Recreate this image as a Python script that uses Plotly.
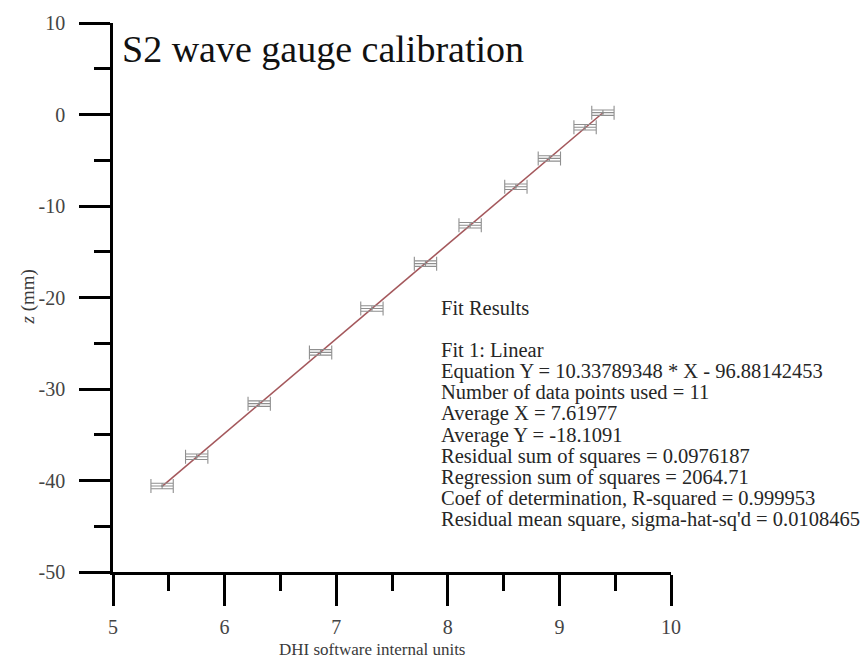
import plotly.graph_objects as go

# Calibration points: DHI internal units vs measured elevation z (mm)
dhi_units = [5.44, 5.75, 6.31, 6.86, 7.32, 7.80, 8.20, 8.61, 8.91, 9.23, 9.39]
z_mm = [-40.6, -37.4, -31.6, -26.0, -21.2, -16.3, -12.1, -7.9, -4.8, -1.4, 0.2]
x_err = 0.1
z_err = 0.3

# Linear fit coefficients
slope = 10.33789348
intercept = -96.88142453

fit_lines = [
    "Fit Results",
    "",
    "Fit 1: Linear",
    "Equation Y = 10.33789348 * X - 96.88142453",
    "Number of data points used = 11",
    "Average X = 7.61977",
    "Average Y = -18.1091",
    "Residual sum of squares = 0.0976187",
    "Regression sum of squares = 2064.71",
    "Coef of determination, R-squared = 0.999953",
    "Residual mean square, sigma-hat-sq'd = 0.0108465",
]

x_ticks = [5, 6, 7, 8, 9, 10]
y_ticks = [10, 0, -10, -20, -30, -40, -50]

W, H = 860, 663
ML, MR, MT, MB = 112.5, 188.5, 15.6, 91.3
SERIF = "Liberation Serif"


def px_x(px):
    return (px - ML) / (W - ML - MR)


def px_y(py):
    return 1 - (py - MT) / (H - MT - MB)


fig = go.Figure()

x_fit = [min(dhi_units), max(dhi_units)]
y_fit = [slope * v + intercept for v in x_fit]
fig.add_trace(go.Scatter(
    x=x_fit, y=y_fit, mode="lines",
    line=dict(color="#a4585c", width=1.6),
    hoverinfo="skip", showlegend=False,
))

fig.add_trace(go.Scatter(
    x=dhi_units, y=z_mm, mode="markers",
    marker=dict(size=2, color="#8a8a8a"),
    error_x=dict(type="constant", value=x_err, color="#8f8f8f", thickness=1.1, width=7),
    error_y=dict(type="constant", value=z_err, color="#8f8f8f", thickness=1.1, width=11),
    showlegend=False,
))

axis_common = dict(
    showline=True, linecolor="black", linewidth=2.5,
    ticks="outside", ticklen=31, tickwidth=2.5, tickcolor="black",
    showgrid=False, zeroline=False,
    tickfont=dict(family=SERIF, size=20, color="#444444"),
)

fig.update_xaxes(
    range=[5, 10], tickvals=x_ticks, ticktext=[str(v) for v in x_ticks],
    minor=dict(dtick=0.5, ticks="outside", ticklen=16, tickwidth=2.5, tickcolor="black"),
    ticklabelstandoff=4,
    **axis_common,
)
fig.update_yaxes(
    range=[-50, 10], tickvals=y_ticks, ticktext=[str(v) for v in y_ticks],
    minor=dict(dtick=5, ticks="outside", ticklen=16, tickwidth=2.5, tickcolor="black"),
    ticklabelstandoff=10,
    **axis_common,
)

annotations = [
    dict(text="S2 wave gauge calibration", x=px_x(120), y=px_y(42),
         xanchor="left", yanchor="middle",
         font=dict(family=SERIF, size=38, color="#111111")),
    dict(text="DHI software internal units", x=px_x(372), y=px_y(650),
         xanchor="center", yanchor="middle",
         font=dict(family=SERIF, size=17, color="#3a3a3a")),
    dict(text="<i>z</i> (mm)", x=px_x(27), y=px_y(293), textangle=-90,
         xanchor="center", yanchor="middle",
         font=dict(family=SERIF, size=19, color="#3a3a3a")),
]

line_step = 21.5
for i, line in enumerate(fit_lines):
    if not line:
        continue
    annotations.append(dict(
        text=line, x=px_x(439), y=px_y(304 + i * line_step),
        xanchor="left", yanchor="middle",
        font=dict(family=SERIF, size=20.5, color="#262626"),
    ))

for a in annotations:
    a.update(xref="paper", yref="paper", showarrow=False)

fig.update_layout(
    width=W, height=H,
    margin=dict(l=ML, r=MR, t=MT, b=MB),
    paper_bgcolor="white", plot_bgcolor="white",
    annotations=annotations,
    showlegend=False,
)

fig.write_html("out.html")
